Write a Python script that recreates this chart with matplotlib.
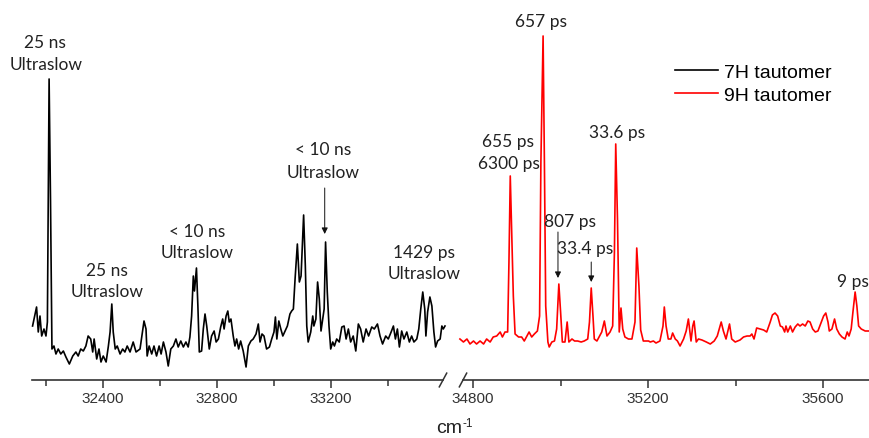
import matplotlib
matplotlib.use("Agg")
import matplotlib.pyplot as plt
from matplotlib.ticker import MultipleLocator

# 7H tautomer spectrum (left part of broken axis)
wn_7h = [32153, 32167, 32173, 32179, 32185, 32193, 32200, 32205, 32211, 32216,
         32221, 32228, 32235, 32243, 32252, 32261, 32270, 32282, 32294, 32305,
         32313, 32322, 32331, 32340, 32348, 32357, 32364, 32369, 32378, 32386,
         32393, 32401, 32411, 32419, 32425, 32431, 32436, 32443, 32450, 32460,
         32469, 32477, 32485, 32495, 32506, 32516, 32530, 32544, 32551, 32555,
         32562, 32571, 32579, 32588, 32597, 32604, 32612, 32621, 32629, 32638,
         32647, 32656, 32664, 32673, 32682, 32691, 32699, 32705, 32711, 32717,
         32721, 32728, 32733, 32738, 32746, 32752, 32758, 32764, 32773, 32781,
         32790, 32797, 32805, 32813, 32820, 32825, 32832, 32838, 32843, 32849,
         32857, 32863, 32869, 32876, 32883, 32892, 32902, 32910, 32919, 32927,
         32937, 32945, 32951, 32958, 32965, 32974, 32984, 32992, 33000, 33005,
         33010, 33017, 33024, 33031, 33039, 33047, 33056, 33062, 33068, 33074,
         33082, 33089, 33095, 33104, 33110, 33115, 33120, 33129, 33136, 33140,
         33147, 33153, 33159, 33165, 33171, 33176, 33181, 33187, 33193, 33199,
         33206, 33212, 33220, 33229, 33238, 33246, 33253, 33261, 33269, 33278,
         33287, 33296, 33304, 33313, 33323, 33332, 33343, 33352, 33363, 33372,
         33381, 33392, 33401, 33411, 33419, 33426, 33433, 33440, 33448, 33456,
         33466, 33475, 33483, 33491, 33501, 33508, 33515, 33522, 33529, 33533,
         33539, 33547, 33554, 33561, 33567, 33574, 33583, 33589, 33594, 33600]
int_7h = [54, 73, 48, 64, 44, 51, 44, 58, 301, 178,
          31, 34, 26, 31, 26, 29, 23, 16, 24, 28,
          24, 31, 29, 34, 44, 41, 28, 41, 21, 31,
          18, 24, 18, 34, 48, 76, 48, 31, 34, 26,
          31, 28, 34, 28, 38, 28, 31, 59, 51, 24,
          34, 26, 34, 24, 34, 26, 38, 28, 14, 31,
          34, 41, 33, 39, 33, 38, 33, 43, 64, 104,
          89, 112, 74, 28, 29, 51, 66, 54, 31, 44,
          49, 38, 41, 53, 61, 51, 64, 69, 58, 61,
          44, 34, 41, 31, 39, 29, 13, 34, 39, 41,
          46, 56, 38, 46, 44, 31, 33, 41, 48, 63,
          41, 59, 51, 44, 49, 54, 66, 69, 71, 101,
          136, 98, 104, 165, 114, 54, 38, 48, 64, 54,
          61, 98, 81, 49, 61, 71, 138, 88, 54, 31,
          38, 34, 41, 38, 53, 54, 41, 51, 38, 44,
          29, 56, 51, 38, 51, 44, 53, 51, 56, 44,
          36, 44, 41, 48, 54, 41, 51, 33, 49, 41,
          48, 38, 44, 38, 41, 51, 71, 88, 71, 44,
          68, 83, 74, 48, 33, 39, 41, 54, 51, 54]

# 9H tautomer spectrum (right part of broken axis)
wn_9h = [34770, 34778, 34786, 34793, 34801, 34808, 34816, 34824, 34831, 34839,
         34846, 34854, 34862, 34867, 34873, 34879, 34882, 34885, 34888, 34892,
         34896, 34904, 34911, 34917, 34923, 34928, 34934, 34940, 34947, 34952,
         34955, 34960, 34963, 34966, 34971, 34974, 34980, 34986, 34991, 34996,
         35000, 35004, 35010, 35015, 35019, 35026, 35032, 35039, 35047, 35054,
         35062, 35066, 35070, 35074, 35077, 35083, 35088, 35094, 35100, 35106,
         35113, 35119, 35123, 35126, 35130, 35134, 35138, 35142, 35147, 35155,
         35163, 35170, 35174, 35179, 35183, 35189, 35201, 35205, 35212, 35218,
         35227, 35234, 35237, 35241, 35246, 35252, 35256, 35262, 35267, 35273,
         35281, 35287, 35292, 35298, 35302, 35305, 35310, 35315, 35323, 35333,
         35342, 35351, 35358, 35367, 35372, 35378, 35386, 35391, 35399, 35410,
         35418, 35426, 35433, 35437, 35442, 35448, 35456, 35464, 35471, 35479,
         35484, 35490, 35496, 35502, 35507, 35512, 35515, 35519, 35525, 35530,
         35536, 35542, 35547, 35553, 35559, 35565, 35570, 35576, 35582, 35588,
         35594, 35601, 35606, 35611, 35614, 35620, 35626, 35631, 35637, 35643,
         35650, 35655, 35659, 35664, 35668, 35673, 35677, 35681, 35687, 35696,
         35704]
int_9h = [41, 38, 41, 36, 39, 36, 39, 36, 41, 38,
          43, 44, 48, 43, 48, 48, 118, 204, 151, 84,
          46, 43, 43, 39, 44, 48, 43, 46, 49, 64,
          218, 344, 218, 74, 38, 33, 38, 39, 51, 96,
          68, 38, 38, 58, 38, 41, 39, 39, 38, 39,
          41, 58, 92, 64, 41, 39, 43, 48, 59, 44,
          48, 54, 128, 236, 161, 48, 72, 51, 43, 41,
          41, 58, 132, 94, 50, 39, 39, 38, 39, 37,
          39, 54, 73, 54, 41, 41, 47, 41, 39, 34,
          41, 49, 61, 39, 54, 59, 38, 41, 40, 38,
          36, 39, 44, 58, 49, 41, 56, 41, 38, 40,
          43, 44, 44, 46, 41, 52, 51, 50, 48, 58,
          65, 67, 64, 54, 53, 48, 54, 48, 54, 48,
          53, 56, 54, 56, 54, 59, 58, 51, 48, 49,
          56, 64, 67, 58, 49, 51, 61, 51, 46, 43,
          41, 48, 44, 51, 68, 88, 74, 54, 51, 49,
          49]

# labels: (x, y, text)
labels_7h = [(32196, 338, "25 ns"), (32200, 316, "Ultraslow"),
             (32414, 110, "25 ns"), (32414, 89, "Ultraslow"),
             (32730, 149, "< 10 ns"), (32730, 128, "Ultraslow"),
             (33172, 231, "< 10 ns"), (33172, 208, "Ultraslow"),
             (33526, 128, "1429 ps"), (33526, 107, "Ultraslow")]
labels_9h = [(34955, 359, "657 ps"),
             (34880, 239, "655 ps"), (34881, 217, "6300 ps"),
             (35021, 159, "807 ps"),
             (35055, 132, "33.4 ps"),
             (35128, 248, "33.6 ps"),
             (35668, 99, "9 ps")]
# arrows: (x, y_start, y_end)
arrows_7h = [(33178, 192, 146)]
arrows_9h = [(34994, 148, 102), (35070, 118, 98)]

plt.rcParams['font.family'] = ['Liberation Sans', 'DejaVu Sans']

W, H = 870, 439
fig = plt.figure(figsize=(W / 100, H / 100), dpi=100)
bottom = (H - 381) / H
height = 381 / H
ax1 = fig.add_axes([32 / W, bottom, (443 - 32) / W, height])
ax2 = fig.add_axes([463 / W, bottom, (870 - 463) / W, height])

ax1.plot(wn_7h, int_7h, color='black', lw=1.2, label='7H tautomer', clip_on=False)
ax2.plot(wn_9h, int_9h, color='#ff0000', lw=1.2, label='9H tautomer', clip_on=False)

ax1.set_xlim(32151, 33593)
ax2.set_xlim(34777, 35707)
for ax in (ax1, ax2):
    ax.set_ylim(0, 381)
    ax.patch.set_alpha(0)
    for s in ('top', 'left', 'right'):
        ax.spines[s].set_visible(False)
    ax.spines['bottom'].set_color('#333333')
    ax.spines['bottom'].set_linewidth(1.2)
    ax.set_yticks([])
    ax.xaxis.set_major_locator(MultipleLocator(400))
    ax.xaxis.set_minor_locator(MultipleLocator(200))
    ax.tick_params(axis='x', which='major', length=6, width=1.1, color='#333333',
                   labelsize=11, labelcolor='#333333', pad=2)
    ax.tick_params(axis='x', which='minor', length=4, width=1.1, color='#333333')

# break marks
d = 0.009
kw = dict(color='#333333', lw=1.1, clip_on=False)
ax1.plot([1 - d, 1 + d], [-0.018, 0.018], transform=ax1.transAxes, **kw)
ax2.plot([-d, d], [-0.018, 0.018], transform=ax2.transAxes, **kw)

tfont = dict(family=['Lato', 'DejaVu Sans'], fontsize=12.5, color='#222222',
             ha='center', va='center')
for x, y, t in labels_7h:
    ax1.text(x, y, t, **tfont)
for x, y, t in labels_9h:
    ax2.text(x, y, t, **tfont)

aprops = dict(arrowstyle='-|>', color='#111111', lw=0.7, mutation_scale=9,
              shrinkA=0, shrinkB=0)
for x, y0, y1 in arrows_7h:
    ax1.annotate('', xy=(x, y1), xytext=(x, y0), arrowprops=aprops)
for x, y0, y1 in arrows_9h:
    ax2.annotate('', xy=(x, y1), xytext=(x, y0), arrowprops=aprops)

h1, l1 = ax1.get_legend_handles_labels()
h2, l2 = ax2.get_legend_handles_labels()
fig.legend(h1 + h2, l1 + l2, loc='upper left', bbox_to_anchor=(675 / W, 1 - 64 / H),
           frameon=False, fontsize=14, handlelength=2.2, handletextpad=0.3,
           labelspacing=0.3, borderpad=0, borderaxespad=0)

# x label: cm^-1
fig.text(449 / W, 1 - 433 / H, 'cm', fontsize=14, color='#222222',
         ha='center', va='baseline')
fig.text(463 / W, 1 - 424 / H, '-1', fontsize=8.5, color='#222222',
         ha='left', va='center')

fig.savefig('out.png', dpi=100)
